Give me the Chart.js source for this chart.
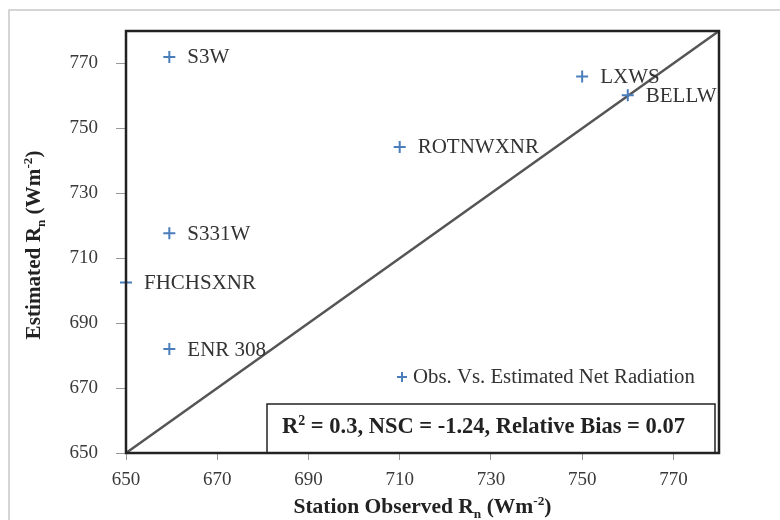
<!DOCTYPE html>
<html>
<head>
<meta charset="utf-8">
<script src="https://cdn.jsdelivr.net/npm/chart.js@4/dist/chart.umd.min.js"></script>
<style>
  html, body { margin: 0; padding: 0; background: #ffffff; }
  #wrap { width: 780px; height: 520px; }
</style>
</head>
<body>
<div id="wrap"><canvas id="c" width="780" height="520"></canvas></div>
<script>
// Station names and net radiation (W m-2): observed vs. estimated
const stations = ['S3W', 'S331W', 'FHCHSXNR', 'ENR 308', 'ROTNWXNR', 'LXWS', 'BELLW'];
const observed = [659.5, 659.5, 650, 659.5, 710, 750, 760];
const estimated = [772, 717.7, 702.5, 682, 744.3, 766, 760.2];

// 1:1 reference line
const lineX = [650, 780];
const lineY = [650, 780];

// Axis ticks
const xTicks = [650, 670, 690, 710, 730, 750, 770];
const yTicks = [650, 670, 690, 710, 730, 750, 770];

const legendText = 'Obs. Vs. Estimated Net Radiation';
const statsText = [
  { t: 'R' }, { t: '2', sup: true },
  { t: ' = 0.3, NSC = -1.24, Relative Bias = 0.07' }
];
const xTitle = [{ t: 'Station Observed R' }, { t: 'n', sub: true }, { t: ' (Wm' }, { t: '-2', sup: true }, { t: ')' }];
const yTitle = [{ t: 'Estimated R' }, { t: 'n', sub: true }, { t: ' (Wm' }, { t: '-2', sup: true }, { t: ')' }];

const SERIF = '"Liberation Serif", "Times New Roman", serif';
const markColor = '#4a7ebb';
const textColor = '#333333';

// Width of a run of text with optional sub/superscript pieces
function richWidth(ctx, parts, size, weight) {
  let w = 0;
  parts.forEach(p => {
    const s = (p.sub || p.sup) ? size * 0.62 : size;
    ctx.font = weight + ' ' + s + 'px ' + SERIF;
    w += ctx.measureText(p.t).width;
  });
  return w;
}
// Draws a run of text with optional sub/superscript pieces
function drawRich(ctx, parts, x, y, size, weight) {
  let cx = x;
  parts.forEach(p => {
    const small = p.sub || p.sup;
    const s = small ? size * 0.62 : size;
    ctx.font = weight + ' ' + s + 'px ' + SERIF;
    let dy = 0;
    if (p.sub) dy = size * 0.22;
    if (p.sup) dy = -size * 0.36;
    ctx.fillText(p.t, cx, y + dy);
    cx += ctx.measureText(p.t).width;
  });
}

const decor = {
  id: 'decor',
  beforeDraw(chart) {
    const ctx = chart.ctx;
    ctx.save();
    ctx.fillStyle = '#ffffff';
    ctx.fillRect(0, 0, chart.width, chart.height);
    // outer figure frame
    ctx.strokeStyle = '#c8c8c8';
    ctx.lineWidth = 1.5;
    ctx.beginPath();
    ctx.moveTo(9, chart.height);
    ctx.lineTo(9, 10);
    ctx.lineTo(chart.width, 10);
    ctx.stroke();
    ctx.restore();
  },
  afterDatasetsDraw(chart) {
    const ctx = chart.ctx;
    const a = chart.chartArea;
    const xs = chart.scales.x, ys = chart.scales.y;
    ctx.save();

    // station labels beside each point
    ctx.fillStyle = textColor;
    ctx.font = '21px ' + SERIF;
    ctx.textBaseline = 'middle';
    ctx.textAlign = 'left';
    stations.forEach((name, i) => {
      const px = xs.getPixelForValue(observed[i]);
      const py = ys.getPixelForValue(estimated[i]);
      ctx.fillText(name, px + 18, py + 1);
    });

    // legend entry inside the plot
    const lx = 402, ly = 377;
    ctx.strokeStyle = markColor;
    ctx.lineWidth = 2;
    ctx.beginPath();
    ctx.moveTo(lx - 5, ly); ctx.lineTo(lx + 5, ly);
    ctx.moveTo(lx, ly - 5); ctx.lineTo(lx, ly + 5);
    ctx.stroke();
    ctx.fillStyle = textColor;
    ctx.font = '20.8px ' + SERIF;
    ctx.fillText(legendText, lx + 11, ly + 1);

    // statistics box
    const bx = 267, by = 404, bw = a.right - 4 - bx, bh = a.bottom - by;
    ctx.fillStyle = '#ffffff';
    ctx.fillRect(bx, by, bw, bh);
    ctx.strokeStyle = '#222222';
    ctx.lineWidth = 1.5;
    ctx.strokeRect(bx, by, bw, bh);
    ctx.fillStyle = '#222222';
    ctx.textBaseline = 'alphabetic';
    drawRich(ctx, statsText, 282, 433, 22.5, 'bold');

    // plot frame
    ctx.strokeStyle = '#222222';
    ctx.lineWidth = 2.5;
    ctx.strokeRect(a.left, a.top, a.right - a.left, a.bottom - a.top);

    // axis titles
    ctx.fillStyle = '#222222';
    ctx.textBaseline = 'alphabetic';
    const xw = richWidth(ctx, xTitle, 21.5, 'bold');
    drawRich(ctx, xTitle, 422.5 - xw / 2, 513, 21.5, 'bold');
    ctx.translate(40, 245);
    ctx.rotate(-Math.PI / 2);
    const yw = richWidth(ctx, yTitle, 21.2, 'bold');
    drawRich(ctx, yTitle, -yw / 2, 0, 21.2, 'bold');
    ctx.restore();
  }
};

new Chart(document.getElementById('c'), {
  type: 'scatter',
  data: {
    datasets: [
      {
        label: legendText,
        data: observed.map((v, i) => ({ x: v, y: estimated[i] })),
        pointStyle: 'cross',
        pointRadius: 6,
        pointBorderWidth: 2,
        borderColor: markColor,
        backgroundColor: markColor,
        showLine: false,
        clip: false
      },
      {
        label: '1:1',
        data: lineX.map((v, i) => ({ x: v, y: lineY[i] })),
        showLine: true,
        borderColor: '#555555',
        borderWidth: 2.5,
        pointRadius: 0,
        fill: false
      }
    ]
  },
  options: {
    responsive: false,
    animation: false,
    devicePixelRatio: 1,
    layout: { padding: { left: 0, top: 31, right: 61, bottom: 0 } },
    plugins: { legend: { display: false }, tooltip: { enabled: false } },
    scales: {
      x: {
        type: 'linear', min: 650, max: 780,
        afterFit(s) { s.height = 67; },
        afterBuildTicks(s) { s.ticks = xTicks.map(v => ({ value: v })); },
        grid: { drawOnChartArea: false, drawTicks: true, tickLength: 7, color: '#999999', tickColor: '#999999' },
        border: { display: false },
        ticks: { color: '#3a3a3a', font: { family: SERIF, size: 19 }, padding: 9, maxRotation: 0, autoSkip: false }
      },
      y: {
        type: 'linear', min: 650, max: 780,
        afterFit(s) { s.width = 126; },
        afterBuildTicks(s) { s.ticks = yTicks.map(v => ({ value: v })); },
        grid: { drawOnChartArea: false, drawTicks: true, tickLength: 10, color: '#999999', tickColor: '#999999' },
        border: { display: false },
        ticks: { color: '#3a3a3a', font: { family: SERIF, size: 19 }, padding: 18, autoSkip: false }
      }
    }
  },
  plugins: [decor]
});
</script>
</body>
</html>
